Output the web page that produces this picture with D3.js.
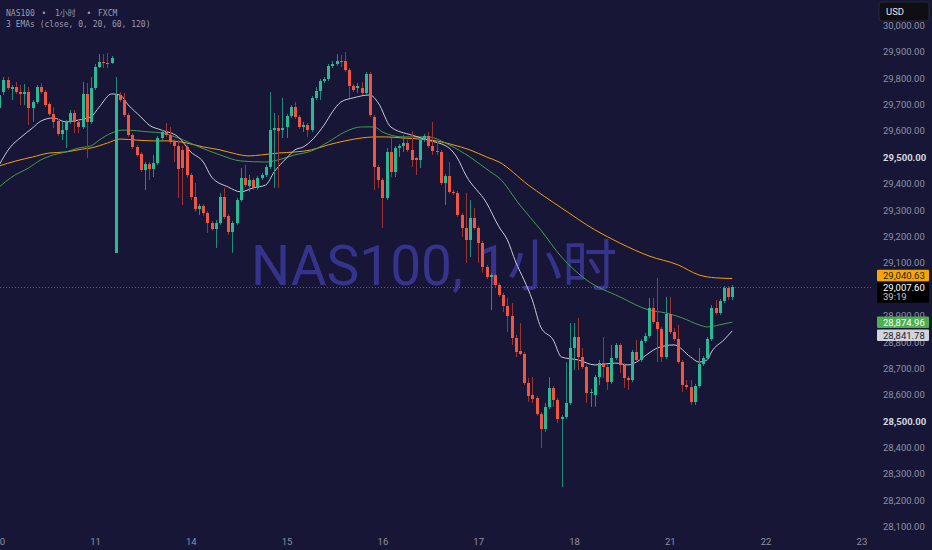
<!DOCTYPE html>
<html>
<head>
<meta charset="utf-8">
<script src="https://cdn.jsdelivr.net/npm/d3@7"></script>
<style>
  html, body { margin: 0; padding: 0; background: #171637; overflow: hidden; }
  svg { display: block; }
</style>
</head>
<body>
<div id="chart"></div>
<script>
const width = 932,
    height = 550;

// hourly candles [open, high, low, close], one array per trading day
const day10 = [
  [29687,29744,29679,29736],[29747,29804,29736,29793],[29793,29804,29755,29762],[29759,29774,29717,29766],
  [29766,29785,29740,29747],[29747,29774,29698,29740],[29740,29778,29698,29747],[29747,29766,29622,29687],
  [29687,29717,29634,29709],[29709,29774,29702,29766],[29766,29781,29740,29747],[29747,29755,29690,29698],
  [29702,29709,29656,29664],[29664,29690,29611,29634],[29637,29645,29581,29588],[29588,29634,29565,29603],
  [29603,29641,29535,29634],[29634,29679,29626,29668],[29668,29679,29592,29634],[29634,29641,29592,29615],
  [29615,29785,29607,29740],[29740,29781,29497,29634],[29634,29804,29626,29762]
];
const day11 = [
  [29762,29853,29755,29842],[29842,29891,29838,29861],[29861,29891,29838,29857],[29857,29895,29838,29853],
  [29857,29884,29853,29876],[29138,29804,29138,29736],[29736,29747,29709,29717],[29717,29744,29653,29660],
  [29660,29668,29577,29584],[29584,29592,29531,29539],[29539,29547,29501,29509],[29512,29520,29444,29452],
  [29452,29482,29376,29475],[29475,29482,29414,29456],[29456,29509,29425,29478],[29478,29581,29471,29573],
  [29573,29603,29565,29596],[29596,29630,29577,29584],[29584,29615,29550,29558],[29562,29569,29482,29543],
  [29543,29565,29346,29456],[29528,29543,29319,29459],[29539,29547,29422,29433]
];
const day14 = [
  [29433,29441,29338,29350],[29350,29403,29293,29304],[29304,29323,29281,29315],[29315,29323,29278,29289],
  [29289,29296,29213,29251],[29251,29259,29221,29228],[29228,29262,29156,29251],[29251,29365,29244,29350],
  [29350,29384,29266,29274],[29278,29285,29206,29217],[29217,29259,29138,29251],[29251,29346,29244,29338],
  [29338,29459,29331,29422],[29422,29471,29387,29395],[29391,29433,29369,29414],[29414,29422,29376,29384],
  [29384,29429,29376,29422],[29422,29441,29414,29433],[29433,29471,29425,29463],[29463,29747,29456,29603],
  [29603,29668,29384,29611],[29611,29660,29384,29600],[29603,29725,29573,29611]
];
const day15 = [
  [29615,29664,29573,29656],[29656,29698,29649,29690],[29690,29709,29645,29653],[29653,29660,29607,29615],
  [29615,29634,29596,29622],[29622,29630,29577,29603],[29603,29732,29596,29725],[29725,29766,29717,29751],
  [29751,29797,29717,29789],[29789,29804,29781,29797],[29797,29853,29789,29846],[29846,29865,29838,29853],
  [29853,29891,29846,29865],[29865,29888,29842,29861],[29865,29899,29823,29831],[29831,29838,29725,29770],
  [29770,29778,29747,29755],[29762,29781,29744,29770],[29762,29785,29736,29744],[29744,29823,29736,29815],
  [29815,29823,29653,29660],[29653,29660,29376,29463],[29463,29471,29384,29414]
];
const day16 = [
  [29414,29422,29232,29346],[29346,29535,29338,29520],[29520,29573,29425,29444],[29444,29543,29425,29535],
  [29535,29550,29501,29543],[29543,29584,29520,29554],[29554,29565,29520,29528],[29528,29600,29463,29490],
  [29497,29501,29433,29490],[29490,29573,29459,29565],[29565,29588,29558,29581],[29581,29596,29535,29543],
  [29543,29634,29509,29524],[29524,29562,29509,29520],[29520,29528,29395,29403],[29403,29437,29319,29429],
  [29429,29482,29361,29369],[29369,29376,29357,29365],[29365,29372,29274,29281],[29281,29289,29198,29232],
  [29232,29365,29100,29187],[29187,29338,29122,29270],[29270,29308,29225,29232]
];
const day17 = [
  [29232,29240,29100,29175],[29175,29183,29062,29084],[29084,29092,29039,29047],[29047,29062,28921,29054],
  [29054,29062,29009,29016],[29016,29024,28971,28978],[28978,28986,28914,28937],[28937,28967,28838,28899],
  [28899,28948,28789,28815],[28815,28827,28743,28762],[28766,28872,28751,28755],[28755,28762,28637,28645],
  [28645,28664,28573,28596],[28599,28667,28569,28584],[28588,28596,28520,28527],[28527,28535,28398,28470],
  [28470,28569,28459,28554],[28554,28667,28546,28626],[28626,28633,28554,28580],[28580,28588,28493,28508],
  [28508,28523,28250,28516],[28516,28724,28508,28569],[28569,28872,28561,28777]
];
const day18 = [
  [28777,28872,28694,28819],[28819,28891,28694,28743],[28743,28777,28698,28705],[28705,28713,28569,28607],
  [28607,28622,28554,28611],[28599,28675,28554,28667],[28667,28732,28637,28720],[28720,28819,28664,28705],
  [28705,28713,28618,28648],[28648,28789,28641,28739],[28739,28796,28732,28789],[28789,28796,28683,28713],
  [28713,28720,28626,28664],[28664,28671,28618,28656],[28656,28770,28648,28762],[28762,28808,28724,28732],
  [28732,28811,28724,28804],[28804,28834,28796,28823],[28823,28967,28815,28929],[28929,28967,28868,28876],
  [28876,29043,28724,28849],[28849,28857,28724,28743],[28743,28971,28736,28906]
];
const day21 = [
  [28906,28971,28830,28838],[28838,28853,28804,28811],[28811,28865,28717,28724],[28724,28732,28611,28637],
  [28637,28656,28618,28630],[28630,28656,28561,28573],[28573,28641,28561,28633],[28633,28777,28626,28717],
  [28717,28747,28709,28739],[28739,28819,28732,28811],[28811,28940,28804,28929],[28929,28959,28903,28910],
  [28910,28963,28903,28956],[28956,29012,28948,29005],[29005,29012,28959,28971],[28971,29016,28959,29007.6]
];

// EMA values: [bar index, price]
const ema20 = [[0,29471],[2.5,29535],[5,29573],[8,29611],[10,29637],[13,29649],[16,29634],[19,29641],[22,29653],
  [24,29690],[27,29740],[29,29736],[31,29698],[34,29653],[36,29622],[39,29603],[43,29577],[46,29520],[49,29482],
  [51,29425],[55,29387],[58,29369],[61,29384],[64,29395],[66,29444],[69,29497],[71,29528],[73,29539],[78,29622],
  [80,29672],[82,29709],[85,29725],[89,29736],[91,29706],[94,29615],[99,29584],[103,29565],[108,29535],[110,29497],
  [112,29433],[117,29327],[120,29236],[122,29187],[124,29103],[126,29035],[128,28959],[130,28857],[133,28808],
  [135,28743],[139,28732],[143,28713],[148,28720],[151,28713],[153,28724],[156,28758],[158,28777],[162,28789],
  [166,28743],[168,28724],[170,28732],[171,28762],[174,28808],[176,28841.78]];
const ema60 = [[0,29387],[3,29425],[7,29459],[10,29490],[13,29509],[16,29520],[19,29535],[22,29543],[24,29565],
  [27,29592],[30,29603],[36,29596],[39,29592],[43,29573],[48,29539],[53,29509],[58,29486],[64,29482],[67,29490],
  [71,29509],[75,29524],[79,29558],[83,29596],[87,29615],[90,29615],[92,29596],[97,29577],[103,29577],[108,29547],
  [113,29501],[118,29444],[120,29422],[125,29319],[130,29225],[135,29122],[141,29035],[149,28971],[156,28921],
  [160,28910],[164,28891],[168,28865],[170,28857],[173,28865],[176,28874.96]];
const ema120 = [[0,29467],[4,29486],[8,29501],[12,29516],[16,29520],[20,29531],[22,29535],[26,29554],[29,29569],
  [33,29565],[37,29562],[41,29562],[45,29554],[49,29539],[53,29528],[57,29512],[60,29505],[63,29509],[67,29516],
  [71,29520],[75,29528],[79,29547],[83,29562],[87,29573],[90,29577],[93,29577],[97,29573],[101,29569],[105,29562],
  [109,29547],[113,29528],[117,29501],[120,29482],[127,29395],[135,29308],[143,29225],[149,29175],[156,29126],
  [163,29092],[168,29054],[172,29043],[176,29040.63]];

const priceTicks = [28100,28200,28300,28400,28500,28600,28700,28800,28900,29000,
  29100,29200,29300,29400,29500,29600,29700,29800,29900,30000];
const boldTicks = [28500, 29500];
const dayLabels = ["10","11","14","15","16","17","18","21","22","23"];
const dayTicks = [0,23,46,69,92,115,138,161,184,207];

const lastPrice = 29007.60;
const countdown = "39:19";

const upColor = "#29b995", downColor = "#f0553f";
const upWick = "#1e8c78", downWick = "#9c3532";

const candles = [].concat(day10, day11, day14, day15, day16, day17, day18, day21)
    .map(function(d, i) { return { i: i, o: d[0], h: d[1], l: d[2], c: d[3] } });

const x = d3.scaleLinear().domain([0, 23]).range([-0.8, 95.0]);
const y = d3.scaleLinear().domain([28100, 29900]).range([526.7, 51.7]);

const svg = d3.select("#chart")
    .append("svg")
    .attr("width", width)
    .attr("height", height);

svg.append("rect").attr("width", width).attr("height", height).attr("fill", "#171637");

svg.append("clipPath").attr("id", "plotclip")
    .append("rect").attr("x", 0).attr("y", 0).attr("width", 873).attr("height", 532);

const plot = svg.append("g").attr("clip-path", "url(#plotclip)");

// watermark
plot.append("text")
    .attr("x", 251)
    .attr("y", 285)
    .attr("fill", "#37338c")
    .style("font-family", "Roboto, 'Noto Sans CJK SC', sans-serif")
    .style("font-size", "55px")
    .text("NAS100, 1小时");

// last price dotted line
plot.append("line")
    .attr("x1", 0).attr("x2", 873)
    .attr("y1", Math.round(y(lastPrice)) + 0.5).attr("y2", Math.round(y(lastPrice)) + 0.5)
    .attr("stroke", "#5d5d75")
    .attr("stroke-dasharray", "1,2");

// EMA lines (under the candles)
const line = d3.line()
    .x(function(d) { return x(d[0]) })
    .y(function(d) { return y(d[1]) })
    .curve(d3.curveMonotoneX);

plot.append("path").datum(ema120).attr("d", line)
    .attr("fill", "none").attr("stroke", "#f59d0c").attr("stroke-width", 1);
plot.append("path").datum(ema60).attr("d", line)
    .attr("fill", "none").attr("stroke", "#3f9f49").attr("stroke-width", 1);
plot.append("path").datum(ema20).attr("d", line)
    .attr("fill", "none").attr("stroke", "#c9c9d8").attr("stroke-width", 1);

// candles
const bars = plot.selectAll(null)
    .data(candles)
    .join("g");

bars.append("line")
    .attr("x1", function(d) { return Math.round(x(d.i)) + 0.5 })
    .attr("x2", function(d) { return Math.round(x(d.i)) + 0.5 })
    .attr("y1", function(d) { return y(d.h) })
    .attr("y2", function(d) { return y(d.l) })
    .attr("stroke", function(d) { return d.c >= d.o ? upWick : downWick })
    .attr("stroke-width", 1);

bars.append("rect")
    .attr("x", function(d) { return Math.round(x(d.i)) - 1 })
    .attr("width", 3)
    .attr("y", function(d) { return y(Math.max(d.o, d.c)) })
    .attr("height", function(d) { return Math.max(1, Math.abs(y(d.o) - y(d.c))) })
    .attr("fill", function(d) { return d.c >= d.o ? upColor : downColor })
    .attr("shape-rendering", "crispEdges");

// price tags on the axis, positions resolved around the last-price tag
const tagH = 11.5, gap = 1.5;
const lastTop = y(lastPrice) - 4.5;
const lastBottom = lastTop + 20;

const tags = [
  { v: ema120[ema120.length - 1][1], fill: "#f7a600", ink: "#1c1c24" },
  { v: ema60[ema60.length - 1][1], fill: "#4caf50", ink: "#ffffff" },
  { v: ema20[ema20.length - 1][1], fill: "#d1d4dc", ink: "#1c1c2c" }
];
tags.forEach(function(t) { t.top = y(t.v) - tagH / 2 });
const above = tags.filter(function(t) { return t.v > lastPrice }).sort(function(a, b) { return b.top - a.top });
const below = tags.filter(function(t) { return t.v <= lastPrice }).sort(function(a, b) { return a.top - b.top });
let limit = lastTop - gap;
above.forEach(function(t) { if (t.top + tagH > limit) t.top = limit - tagH; limit = t.top - gap });
limit = lastBottom + gap;
below.forEach(function(t) { if (t.top < limit) t.top = limit; limit = t.top + tagH + gap });

// price axis (labels hidden behind the last-price tag are skipped)
const yAxis = d3.axisRight(y)
    .tickValues(priceTicks.filter(function(p) { return y(p) < lastTop - 3 || y(p) > lastBottom + 3 }))
    .tickFormat(d3.format(",.2f"))
    .tickSize(0)
    .tickPadding(0);

const gy = svg.append("g")
    .attr("transform", "translate(883,0)")
    .call(yAxis);
gy.select(".domain").remove();
gy.attr("font-family", "Roboto, sans-serif").attr("font-size", 9.5);
gy.selectAll("text")
    .attr("fill", function(d) { return boldTicks.includes(d) ? "#d6d8e0" : "#8e91a0" })
    .attr("font-weight", function(d) { return boldTicks.includes(d) ? 700 : 400 });

// time axis
const xAxis = d3.axisBottom(x)
    .tickValues(dayTicks)
    .tickFormat(function(d, i) { return dayLabels[i] })
    .tickSize(0)
    .tickPadding(3);

const gx = svg.append("g")
    .attr("transform", "translate(0,535)")
    .call(xAxis);
gx.select(".domain").remove();
gx.attr("font-family", "Roboto, sans-serif").attr("font-size", 9.5);
gx.selectAll("text").attr("fill", "#8e91a0");

// USD box
svg.append("rect")
    .attr("x", 879).attr("y", 2).attr("width", 50).attr("height", 19).attr("rx", 3)
    .attr("fill", "#0e0e13").attr("stroke", "#26263a");
svg.append("text")
    .attr("x", 886).attr("y", 11.5).attr("dy", "0.35em")
    .attr("fill", "#e6e6ec")
    .style("font-family", "Roboto, sans-serif").style("font-size", "9.5px")
    .text("USD");

const tagG = svg.append("g").style("font-family", "Roboto, sans-serif").style("font-size", "9.5px");
tagG.selectAll(null).data(tags).join("rect")
    .attr("x", 877).attr("y", function(d) { return d.top })
    .attr("width", 52).attr("height", tagH).attr("rx", 1)
    .attr("fill", function(d) { return d.fill });
tagG.selectAll(null).data(tags).join("text")
    .attr("x", 883).attr("y", function(d) { return d.top + tagH / 2 }).attr("dy", "0.35em")
    .attr("fill", function(d) { return d.ink })
    .text(function(d) { return d3.format(",.2f")(d.v) });

tagG.append("rect")
    .attr("x", 877).attr("y", lastTop).attr("width", 52).attr("height", 20).attr("rx", 1)
    .attr("fill", "#000000");
tagG.append("text")
    .attr("x", 883).attr("y", y(lastPrice)).attr("dy", "0.35em")
    .attr("fill", "#ffffff")
    .text(d3.format(",.2f")(lastPrice));
tagG.append("text")
    .attr("x", 883).attr("y", y(lastPrice) + 9.5).attr("dy", "0.35em")
    .attr("fill", "#c8c8d0")
    .text(countdown);

// legend, top left
const legend = svg.append("g")
    .attr("fill", "#9a9cab")
    .style("font-family", "'DejaVu Sans Mono', 'Noto Sans CJK SC', monospace")
    .style("font-size", "8px");
legend.append("text").attr("x", 6).attr("y", 16).text("NAS100");
legend.append("text").attr("x", 44).attr("y", 16).attr("text-anchor", "middle").text("•");
legend.append("text").attr("x", 55).attr("y", 16).text("1小时");
legend.append("text").attr("x", 89).attr("y", 16).attr("text-anchor", "middle").text("•");
legend.append("text").attr("x", 98).attr("y", 16).text("FXCM");
legend.append("text").attr("x", 6).attr("y", 27).text("3 EMAs (close, 0, 20, 60, 120)");
</script>
</body>
</html>
